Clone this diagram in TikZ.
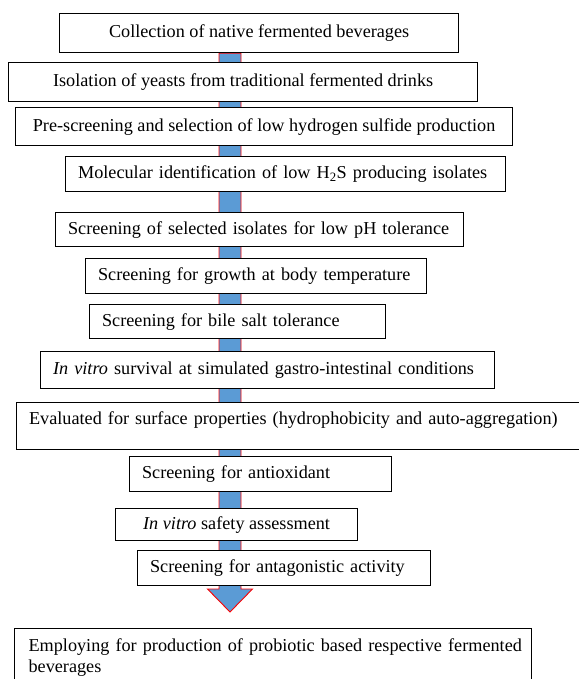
\documentclass[tikz,border=0pt]{standalone}
\usepackage{fontspec}
\setmainfont{Liberation Serif}
\usetikzlibrary{calc,backgrounds}
\definecolor{shaftblue}{RGB}{91,155,213}
\tikzset{
  stepbox/.style={draw=black, fill=white, line width=1.2pt, anchor=north west,
    inner xsep=12.5pt, inner ysep=0pt, align=left,
    font=\fontsize{18.2}{21}\selectfont},
  midbox/.style={stepbox, align=center},
  flowarrow/.style={draw=red, fill=shaftblue, line width=0.9pt}
}
\begin{document}
\begin{tikzpicture}[x=1pt, y=-1pt]
\useasboundingbox (0,0) rectangle (578,679);
% screening steps, top to bottom
\node[midbox, minimum width=399pt, minimum height=39pt] (b1) at (59,13) {Collection of native fermented beverages};
\node[midbox, minimum width=469pt, minimum height=39pt] (b2) at (8,62) {Isolation of yeasts from traditional fermented drinks};
\node[midbox, minimum width=497pt, minimum height=38pt] (b3) at (15,107) {Pre-screening and selection of low hydrogen sulfide production};
\node[stepbox, minimum width=440pt, minimum height=35pt, text width=415pt] (b4) at (65,156) {\mbox{Molecular identification of low H\textsubscript{2}S producing isolates}};
\node[stepbox, minimum width=408pt, minimum height=34pt, text width=383pt] (b5) at (55,212) {\mbox{Screening of selected isolates for low pH tolerance}};
\node[stepbox, minimum width=341pt, minimum height=35pt, text width=316pt] (b6) at (85,258) {\mbox{Screening for growth at body temperature}};
\node[stepbox, minimum width=296pt, minimum height=34pt, text width=271pt] (b7) at (89,304) {\mbox{Screening for bile salt tolerance}};
\node[stepbox, minimum width=454pt, minimum height=37pt, text width=429pt] (b8) at (40,351) {\mbox{\textit{In vitro} survival at simulated gastro-intestinal conditions}};
\node[stepbox, minimum width=574pt, minimum height=47pt, text width=549pt, text depth=16pt] (b9) at (16,402) {\mbox{Evaluated for surface properties (hydrophobicity and auto-aggregation)}};
\node[stepbox, minimum width=262pt, minimum height=35pt, text width=237pt] (b10) at (129,456) {\mbox{Screening for antioxidant}};
\node[midbox, minimum width=242pt, minimum height=32pt] (b11) at (115,508) {\textit{In vitro} safety assessment};
\node[stepbox, minimum width=293pt, minimum height=35pt, text width=268pt] (b12) at (137,550) {\mbox{Screening for antagonistic activity}};
\node[stepbox, inner xsep=14pt, minimum width=517pt, minimum height=58pt, text width=489pt] (b13) at (14,628) {\mbox{Employing for production of probiotic based respective fermented}\\beverages};
% one long arrow behind the boxes
\coordinate (tip) at (230,612);
\begin{scope}[on background layer]
\draw[flowarrow] ($(b1.south -| tip)+(-11,0)$) -- ($(tip)+(-11,-23)$) -- ($(tip)+(-22.5,-23)$)
  -- (tip) -- ($(tip)+(22.5,-23)$) -- ($(tip)+(11,-23)$) -- ($(b1.south -| tip)+(11,0)$) -- cycle;
\end{scope}
\end{tikzpicture}
\end{document}
